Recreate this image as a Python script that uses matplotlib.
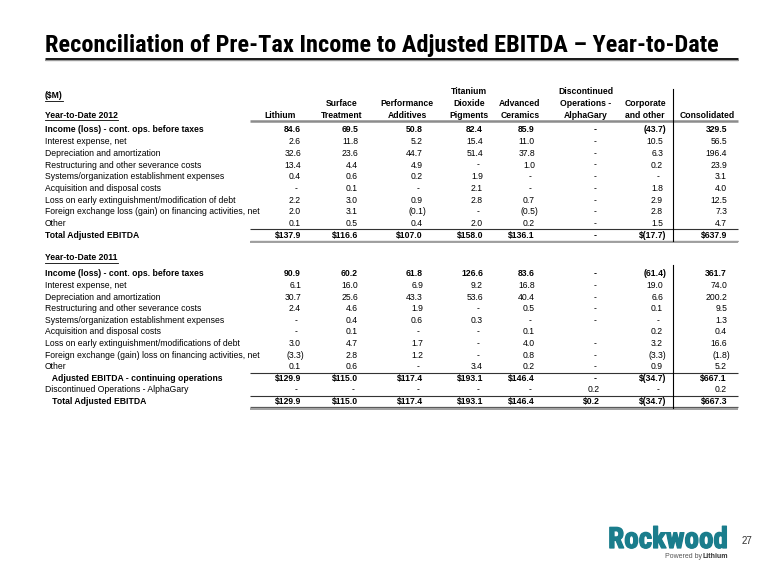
import os
import numpy as np
import matplotlib
matplotlib.use('Agg')
import matplotlib.pyplot as plt
import matplotlib.patheffects as pe
from matplotlib import font_manager
from matplotlib.font_manager import FontProperties

NA = np.nan  # shown as "-"

columns = ['Lithium', 'Surface\nTreatment', 'Performance\nAdditives', 'Titanium\nDioxide\nPigments',
           'Advanced\nCeramics', 'Discontinued\nOperations -\nAlphaGary', 'Corporate\nand other', 'Consolidated']

labels_2012 = ['Income (loss) - cont. ops. before taxes', 'Interest expense, net',
               'Depreciation and amortization', 'Restructuring and other severance costs',
               'Systems/organization establishment expenses', 'Acquisition and disposal costs',
               'Loss on early extinguishment/modification of debt',
               'Foreign exchange loss (gain) on financing activities, net', 'Other',
               'Total Adjusted EBITDA']
rows_2012 = [
    [84.6, 69.5, 50.8, 82.4, 85.9, NA, -43.7, 329.5],
    [2.6, 11.8, 5.2, 15.4, 11.0, NA, 10.5, 56.5],
    [32.6, 23.6, 44.7, 51.4, 37.8, NA, 6.3, 196.4],
    [13.4, 4.4, 4.9, NA, 1.0, NA, 0.2, 23.9],
    [0.4, 0.6, 0.2, 1.9, NA, NA, NA, 3.1],
    [NA, 0.1, NA, 2.1, NA, NA, 1.8, 4.0],
    [2.2, 3.0, 0.9, 2.8, 0.7, NA, 2.9, 12.5],
    [2.0, 3.1, -0.1, NA, -0.5, NA, 2.8, 7.3],
    [0.1, 0.5, 0.4, 2.0, 0.2, NA, 1.5, 4.7],
    [137.9, 116.6, 107.0, 158.0, 136.1, NA, -17.7, 637.9],
]
bold_2012 = [0, 9]
dollar_2012 = [9]

labels_2011 = ['Income (loss) - cont. ops. before taxes', 'Interest expense, net',
               'Depreciation and amortization', 'Restructuring and other severance costs',
               'Systems/organization establishment expenses', 'Acquisition and disposal costs',
               'Loss on early extinguishment/modifications of debt',
               'Foreign exchange (gain) loss on financing activities, net', 'Other',
               '   Adjusted EBITDA - continuing operations', 'Discontinued Operations - AlphaGary',
               '   Total Adjusted EBITDA']
rows_2011 = [
    [90.9, 60.2, 61.8, 126.6, 83.6, NA, -61.4, 361.7],
    [6.1, 16.0, 6.9, 9.2, 16.8, NA, 19.0, 74.0],
    [30.7, 25.6, 43.3, 53.6, 40.4, NA, 6.6, 200.2],
    [2.4, 4.6, 1.9, NA, 0.5, NA, 0.1, 9.5],
    [NA, 0.4, 0.6, 0.3, NA, NA, NA, 1.3],
    [NA, 0.1, NA, NA, 0.1, None, 0.2, 0.4],
    [3.0, 4.7, 1.7, NA, 4.0, NA, 3.2, 16.6],
    [-3.3, 2.8, 1.2, NA, 0.8, NA, -3.3, -1.8],
    [0.1, 0.6, NA, 3.4, 0.2, NA, 0.9, 5.2],
    [129.9, 115.0, 117.4, 193.1, 146.4, NA, -34.7, 667.1],
    [NA, NA, NA, NA, NA, 0.2, NA, 0.2],
    [129.9, 115.0, 117.4, 193.1, 146.4, 0.2, -34.7, 667.3],
]
bold_2011 = [0, 9, 11]
dollar_2011 = [9, 11]

# layout (pixels)
col_center = [280, 342, 407, 469, 520, 586, 645, 707]
col_right = [301, 358, 423, 483, 535, 600, 663, 727]

plt.rcParams['font.family'] = ['Liberation Sans', 'DejaVu Sans']
FS = 6.2
TEAL = '#1a7d8c'


def find_narrow_bold():
    prefs = ['liberationsansnarrow-bold.', 'arialnb', 'arial narrow bold', 'robotocondensed-bold.',
             'notosans-condensedbold.', 'opensans-condbold', 'opensanscondensed-bold',
             'dejavusanscondensed-bold.']
    files = [f.fname for f in font_manager.fontManager.ttflist]
    low = [os.path.basename(p).lower() for p in files]
    for key in prefs:
        for p, b in zip(files, low):
            if key in b:
                return p
    for p, b in zip(files, low):
        if ('narrow' in b or 'condensed' in b) and 'bold' in b and 'semi' not in b and 'extra' not in b:
            return p
    return None


narrow_path = find_narrow_bold()


def heading_font(size):
    if narrow_path:
        return FontProperties(fname=narrow_path, size=size)
    return FontProperties(family='Liberation Sans', weight='bold', size=size)


def fmt(v, dollar=False):
    if v is None:
        return ''
    if np.isnan(v):
        return '-'
    s = f'{abs(v):.1f}'
    if v < 0:
        s = f'({s})'
    return ('$' + s) if dollar else s


fig = plt.figure(figsize=(7.8, 5.85), dpi=100)
ax = fig.add_axes([0, 0, 1, 1])
ax.set_xlim(0, 780); ax.set_ylim(585, 0); ax.axis('off')

# title (fitted to the width of the reference)
title = ax.text(45, 52, 'Reconciliation of Pre-Tax Income to Adjusted EBITDA \u2013 Year-to-Date',
                fontproperties=heading_font(18), va='baseline', ha='left', color='black')
ax.plot([45, 738], [58.5, 58.5], color='black', lw=2.0, solid_capstyle='butt')
ax.plot([45, 738], [60.3, 60.3], color='#9a9a9a', lw=1.0, solid_capstyle='butt')

under = []


def utext(x, y, s):
    t = ax.text(x, y, s, fontsize=FS, fontweight='bold', va='center', ha='left')
    under.append(t)


utext(45, 96, '($M)')
utext(45, 115, 'Year-to-Date 2012')
utext(45, 258, 'Year-to-Date 2011')

# column headers, bottom line aligned
for cx, name in zip(col_center, columns):
    parts = name.split('\n')
    for k, p in enumerate(reversed(parts)):
        ax.text(cx, 115 - k * 11.5, p, fontsize=FS, fontweight='bold', ha='center', va='center')

ax.plot([250, 738], [120.5, 120.5], color='#8c8c8c', lw=1.8, solid_capstyle='butt')


def section(labels, rows, bolds, dollars, y0, step):
    ys = []
    for i, (lab, vals) in enumerate(zip(labels, rows)):
        y = y0 + i * step
        ys.append(y)
        w = 'bold' if i in bolds else 'normal'
        ax.text(45, y, lab, fontsize=FS, fontweight=w, va='center', ha='left')
        for j, v in enumerate(vals):
            s = fmt(v, i in dollars)
            if s == '-':
                ax.text(col_right[j] - 5, y, s, fontsize=FS, fontweight=w, va='center', ha='center')
            elif s:
                off = 3 if s.endswith(')') else 0
                ax.text(col_right[j] + off, y, s, fontsize=FS, fontweight=w, va='center', ha='right')
    return ys


ys12 = section(labels_2012, rows_2012, bold_2012, dollar_2012, 130, 11.7)
ys11 = section(labels_2011, rows_2011, bold_2011, dollar_2011, 274, 11.6)


def rule(y):
    ax.plot([250, 738], [y, y], color='#333333', lw=0.8, solid_capstyle='butt')


def dbl(y):
    ax.plot([250, 738], [y, y], color='#5a5a5a', lw=0.9, solid_capstyle='butt')
    ax.plot([250, 738], [y + 1.6, y + 1.6], color='#a0a0a0', lw=1.4, solid_capstyle='butt')


rule((ys12[8] + ys12[9]) / 2)
dbl(ys12[9] + 5.5)
rule((ys11[8] + ys11[9]) / 2)
rule((ys11[10] + ys11[11]) / 2)
dbl(ys11[11] + 5.5)

ax.plot([673, 673], [89, ys12[9] + 6], color='black', lw=0.8)
ax.plot([673, 673], [265, ys11[11] + 6], color='black', lw=0.8)

# logo and page number
logo = ax.text(728, 548, 'Rockwood', fontproperties=heading_font(24), color=TEAL, ha='right', va='baseline',
               path_effects=[pe.withStroke(linewidth=0.9, foreground=TEAL)])
ax.text(728, 556, 'Lithium', fontsize=5, fontweight='bold', color='#333333', ha='right', va='center')
ax.text(702, 556, 'Powered by', fontsize=5, color='#555555', ha='right', va='center')
ax.text(742, 541, '27', fontsize=7, color='#333333', ha='left', va='center')

# fit title and logo widths, then underline the captions
fig.canvas.draw()
for t, target in [(title, 675.0), (logo, 120.0)]:
    w = t.get_window_extent().width
    t.set_fontsize(t.get_fontsize() * target / w)
fig.canvas.draw()
inv = ax.transData.inverted()
for t in under:
    bb = t.get_window_extent()
    (x0, yb), (x1, _) = inv.transform([[bb.x0, bb.y0], [bb.x1, bb.y1]])
    ax.plot([x0, x1], [yb + 0.3, yb + 0.3], color='black', lw=0.6)

fig.savefig('out.png', dpi=100)
